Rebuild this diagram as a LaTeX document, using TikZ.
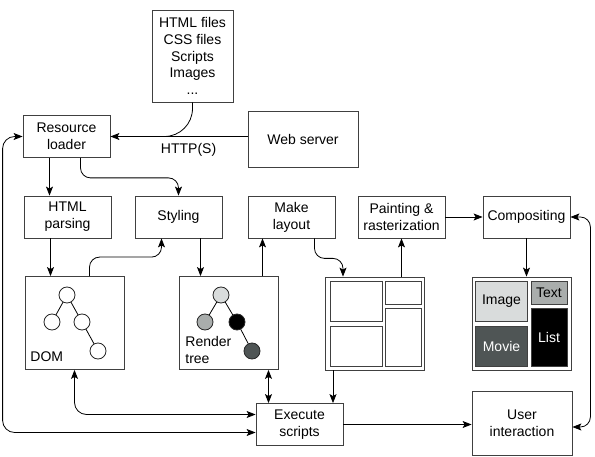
\documentclass[tikz,border=0pt]{standalone}
\usepackage{fontspec}
\setmainfont{Liberation Sans}
\usetikzlibrary{positioning,arrows.meta,calc}
\definecolor{toneA}{HTML}{D9DCDC}
\definecolor{toneB}{HTML}{A9ADAC}
\definecolor{toneC}{HTML}{4F5555}

\begin{document}
\begin{tikzpicture}[x=1pt, y=-1pt, line width=0.8pt, >={Stealth[length=9pt, width=7pt, inset=2pt]},
  font=\fontsize{14}{16.8}\selectfont,
  box/.style={draw=black!75, align=center, inner sep=0pt, minimum width=87pt, minimum height=42pt},
  pane/.style={draw=black!75, inner sep=0pt, minimum width=99pt, minimum height=93pt},
  dot/.style={circle, draw=black!85, fill=white, inner sep=0pt, minimum size=16pt},
  tile/.style={draw=black!75, inner sep=0pt, minimum width=52pt, minimum height=40pt},
  chip/.style={draw=black!75, inner sep=0pt, minimum width=36pt, minimum height=23pt},
  slab/.style={draw=black!75, inner sep=0pt, minimum width=36pt, minimum height=58pt}]
  \useasboundingbox (0,0) rectangle (595,457);

  \node[box, minimum width=81pt, minimum height=92pt] (files) at (192.5,56) {HTML files\\CSS files\\Scripts\\Images\\...};
  \node[box] (loader) at (66.5,136.5) {Resource\\loader};
  \node[box, minimum width=110pt, minimum height=56pt] (web) at (303,139) {Web server};
  \node[box] (parse) at (67.5,217) {HTML\\parsing};
  \node[box] (styling) at (178.5,217) {Styling};
  \node[box] (layout) at (291.5,217) {Make\\layout};
  \node[box] (paint) at (401.5,217) {Painting \&\\rasterization};
  \node[box] (comp) at (526.5,217) {Compositing};
  \node[pane] (dom) at (74.5,323) {};
  \node[pane] (render) at (228.5,323) {};
  \node[pane] (lbox) at (375,323.5) {};
  \node[pane] (cbox) at (521.5,323.5) {};
  \node[box] (exec) at (299.5,424.5) {Execute\\scripts};
  \node[box, minimum width=100pt, minimum height=64pt] (user) at (522,423) {User\\interaction};

  \node[dot] (d1) at (67,295) {};
  \node[dot] (d2) at (52,322) {};
  \node[dot] (d3) at (82,322) {};
  \node[dot] (d4) at (98,351) {};
  \draw (d1) -- (d2) (d1) -- (d3) (d3) -- (d4);
  \node[anchor=west, inner sep=0pt] (domname) at (30,357) {DOM};

  \node[dot, fill=toneA] (r1) at (221,295) {};
  \node[dot, fill=toneB] (r2) at (205,322) {};
  \node[dot, fill=black] (r3) at (237,322) {};
  \node[dot, fill=toneC] (r4) at (252,351) {};
  \draw (r1) -- (r2) (r1) -- (r3) (r3) -- (r4);
  \node[anchor=west, align=left, inner sep=0pt] (rendername) at (185,350) {Render\\tree};

  \node[tile] (la) at (356,301) {};
  \node[chip] (lb) at (403,292.5) {};
  \node[tile] (lc) at (356,346) {};
  \node[slab] (ld) at (403,337) {};

  \node[tile, fill=toneA] (image) at (501.5,301) {Image};
  \node[chip, fill=toneB] (text) at (549,292.5) {Text};
  \node[tile, fill=toneC, text=white] (movie) at (501.5,346) {Movie};
  \node[slab, fill=black, text=white] (list) at (549,337) {List};

  \coordinate (merge) at (160,136.5);
  \draw[->] (web.west |- loader.east) -- node[below=3pt, pos=0.43] {HTTP(S)} (loader.east);
  \draw[rounded corners=28] (files.south) |- (merge);
  \draw[->] ([xshift=-17]loader.south) -- ([xshift=-17]loader.south |- parse.north);
  \draw[->, rounded corners=10] ([xshift=14]loader.south) -- ++(0,20) -| (styling.north);
  \draw[->] ([xshift=-17]parse.south) -- ([xshift=-17]parse.south |- dom.north);
  \draw[->, rounded corners=10] ([xshift=15]dom.north) -- ++(0,-19) -| ([xshift=-17]styling.south);
  \draw[->] ([xshift=22]styling.south) -- ([xshift=22]styling.south |- render.north);
  \draw[->] ([xshift=34]render.north) -- ([xshift=34]render.north |- layout.south);
  \draw[->, rounded corners=10] ([xshift=23]layout.south) -- ++(0,20) -| ([xshift=-32]lbox.north);
  \draw[->] (lbox.north -| paint.south) -- (paint.south);
  \draw[->] (paint.east) -- (comp.west);
  \draw[->] (comp.south) -- (comp.south |- cbox.north);
  \draw[<->, rounded corners=10] (comp.east) -- ++(20,0) |- ([yshift=-4]user.east);
  \draw[<->] ([xshift=40]render.south) -- ([xshift=40]render.south |- exec.north);
  \draw[->] ([xshift=-42]lbox.south) -- ([xshift=-42]lbox.south |- exec.north);
  \draw[<->, rounded corners=12] (dom.south) |- ([yshift=10]exec.west);
  \draw[<->, rounded corners=12] ([yshift=-8]exec.west) -| ([xshift=-20]loader.west) -- (loader.west);
  \draw[->] (exec.east) -- (exec.east -| user.west);
\end{tikzpicture}
\end{document}
